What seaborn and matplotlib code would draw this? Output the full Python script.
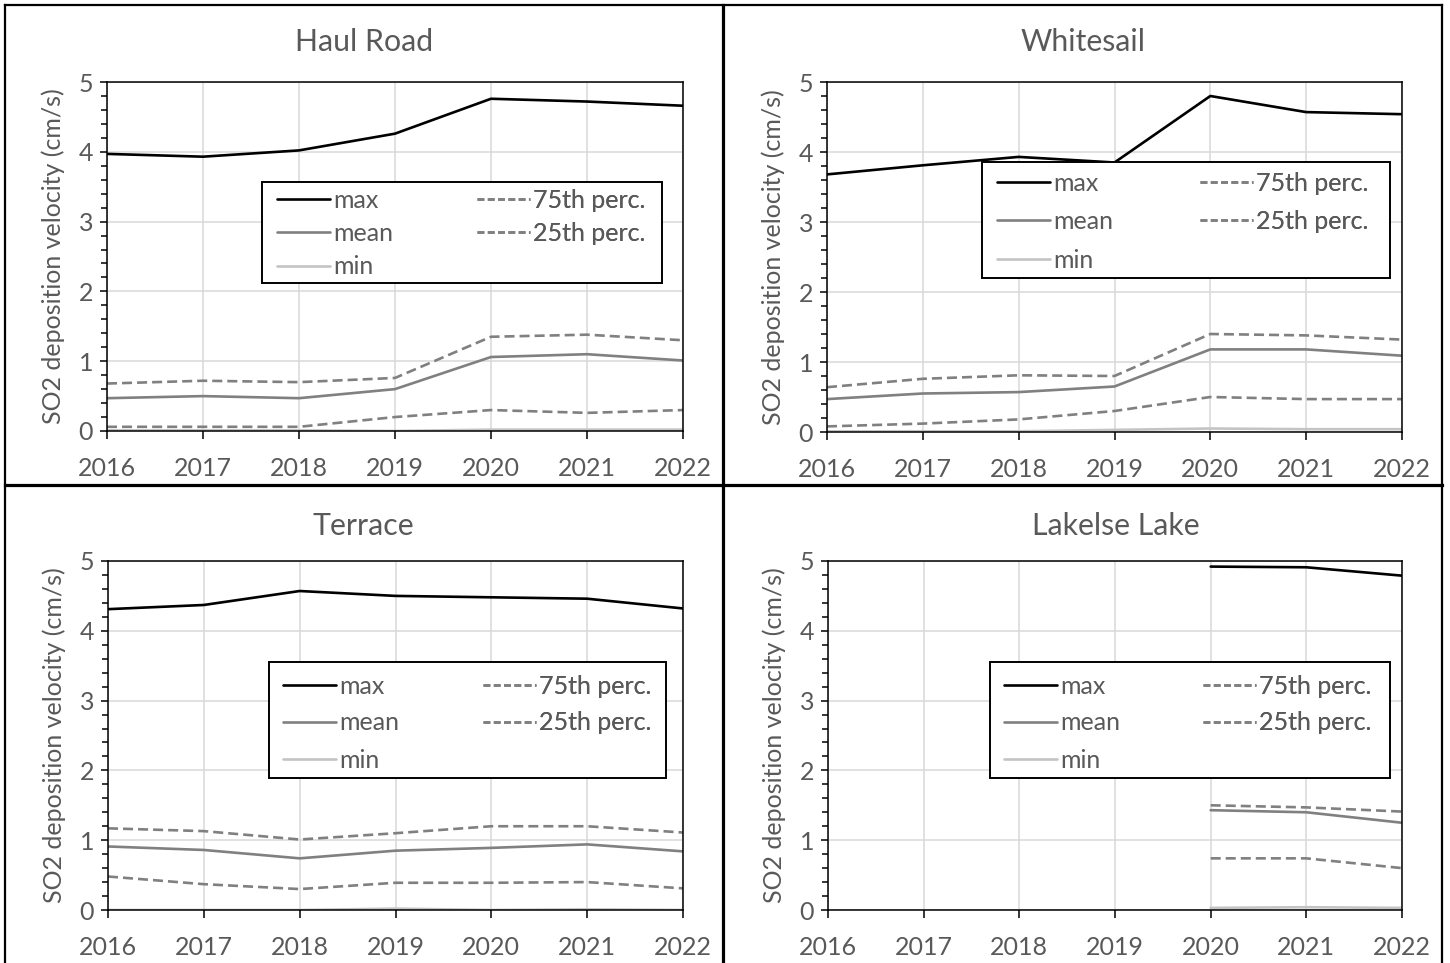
import numpy as np
import pandas as pd
import matplotlib
matplotlib.use("Agg")
import matplotlib.pyplot as plt
from matplotlib.lines import Line2D
from matplotlib.patches import Rectangle
from matplotlib.ticker import MultipleLocator
import seaborn as sns

# ---- data -------------------------------------------------------------
years = [2016, 2017, 2018, 2019, 2020, 2021, 2022]
stations = ["Haul Road", "Whitesail", "Terrace", "Lakelse Lake"]
series_labels = ["max", "mean", "min", "75th perc.", "25th perc."]

haul_max = [3.97, 3.93, 4.02, 4.26, 4.76, 4.72, 4.66]
haul_mean = [0.47, 0.50, 0.47, 0.60, 1.06, 1.10, 1.01]
haul_min = [0.01, 0.01, 0.01, 0.00, 0.02, 0.02, 0.02]
haul_p75 = [0.68, 0.72, 0.70, 0.76, 1.35, 1.38, 1.30]
haul_p25 = [0.06, 0.06, 0.06, 0.20, 0.30, 0.26, 0.30]

white_max = [3.68, 3.81, 3.93, 3.85, 4.80, 4.57, 4.54]
white_mean = [0.47, 0.55, 0.57, 0.65, 1.18, 1.18, 1.09]
white_min = [0.01, 0.01, 0.01, 0.03, 0.05, 0.04, 0.04]
white_p75 = [0.64, 0.76, 0.81, 0.80, 1.40, 1.38, 1.32]
white_p25 = [0.08, 0.12, 0.18, 0.30, 0.50, 0.47, 0.47]

terrace_max = [4.31, 4.37, 4.57, 4.50, 4.48, 4.46, 4.32]
terrace_mean = [0.91, 0.86, 0.74, 0.85, 0.89, 0.94, 0.84]
terrace_min = [0.00, 0.00, 0.00, 0.02, 0.00, 0.01, 0.00]
terrace_p75 = [1.17, 1.13, 1.01, 1.10, 1.20, 1.20, 1.11]
terrace_p25 = [0.48, 0.37, 0.30, 0.39, 0.39, 0.40, 0.31]

nan = np.nan
lakelse_max = [nan, nan, nan, nan, 4.92, 4.91, 4.79]
lakelse_mean = [nan, nan, nan, nan, 1.43, 1.40, 1.25]
lakelse_min = [nan, nan, nan, nan, 0.03, 0.04, 0.03]
lakelse_p75 = [nan, nan, nan, nan, 1.50, 1.47, 1.41]
lakelse_p25 = [nan, nan, nan, nan, 0.74, 0.74, 0.60]

station_series = {
    "Haul Road": [haul_max, haul_mean, haul_min, haul_p75, haul_p25],
    "Whitesail": [white_max, white_mean, white_min, white_p75, white_p25],
    "Terrace": [terrace_max, terrace_mean, terrace_min, terrace_p75, terrace_p25],
    "Lakelse Lake": [lakelse_max, lakelse_mean, lakelse_min, lakelse_p75, lakelse_p25],
}

rows = []
for st in stations:
    for lab, vals in zip(series_labels, station_series[st]):
        for yr, v in zip(years, vals):
            rows.append({"station": st, "series": lab, "year": yr, "value": v})
df = pd.DataFrame(rows)

# ---- styling ----------------------------------------------------------
sns.set_theme(style="white")
plt.rcParams["font.family"] = ["Lato", "DejaVu Sans"]
TEXT = "#595959"
FS = 18
FS_PX = FS * 100 / 72

line_styles = {
    "max": dict(color="#000000", lw=1.9, ls="-", leg_ls="-"),
    "mean": dict(color="#808080", lw=1.9, ls="-", leg_ls="-"),
    "min": dict(color="#c4c4c4", lw=1.9, ls="-", leg_ls="-"),
    "75th perc.": dict(color="#808080", lw=1.9, ls=(0, (3.8, 1.9)), leg_ls=(0, (2.6, 1.3))),
    "25th perc.": dict(color="#808080", lw=1.9, ls=(0, (3.8, 1.9)), leg_ls=(0, (2.6, 1.3))),
}

W, H = 1450, 963
fig = plt.figure(figsize=(W / 100, H / 100), dpi=100)

# axes rectangles in pixels: left, top, right, bottom
axes_px = {
    "Haul Road": (107, 82, 683, 431),
    "Whitesail": (827, 82, 1402, 432),
    "Terrace": (108, 561, 683, 910),
    "Lakelse Lake": (828, 561, 1402, 910),
}
# legend frame in pixels: left, top, right, bottom
legend_frame_px = {
    "Haul Road": (262, 182, 662, 283),
    "Whitesail": (982, 162, 1390, 278),
    "Terrace": (269, 662, 666, 778),
    "Lakelse Lake": (990, 662, 1390, 778),
}
# legend content in pixels: column 1 x, column 2 x, first row centre y, row pitch
legend_rows_px = {
    "Haul Road": (277, 477, 200, 33.5),
    "Whitesail": (997, 1200, 183, 38.5),
    "Terrace": (283, 483, 686, 37),
    "Lakelse Lake": (1004, 1203, 686, 37),
}
title_pos = {"Haul Road": (364, 42), "Whitesail": (1083, 42),
             "Terrace": (363, 526), "Lakelse Lake": (1116, 526)}

TEXT_H = 23.0  # approximate height of a legend text row in pixels

for st in stations:
    l, t, r, b = axes_px[st]
    ax = fig.add_axes([l / W, 1 - b / H, (r - l) / W, (b - t) / H])
    sub = df[df["station"] == st]
    handles = []
    for lab in series_labels:
        d = sub[sub["series"] == lab].dropna()
        stl = line_styles[lab]
        sns.lineplot(data=d, x="year", y="value", ax=ax, estimator=None,
                     color=stl["color"], linewidth=stl["lw"], linestyle=stl["ls"])
        handles.append(Line2D([], [], color=stl["color"], lw=stl["lw"], ls=stl["leg_ls"]))

    ax.set_xlim(2016, 2022)
    ax.set_ylim(0, 5)
    ax.set_xticks(years)
    ax.set_xticklabels([str(y) for y in years])
    ax.set_yticks(range(0, 6))
    ax.yaxis.set_minor_locator(MultipleLocator(0.2))
    ax.grid(True, which="major", color="#d9d9d9", lw=1.1)
    ax.set_axisbelow(True)
    for sp in ax.spines.values():
        sp.set_visible(True)
        sp.set_color("black")
        sp.set_linewidth(1.1)
    ax.tick_params(axis="both", which="major", labelsize=FS, labelcolor=TEXT,
                   direction="out", color="black", width=1.1)
    ax.tick_params(axis="y", which="major", length=5, pad=5, left=True)
    ax.tick_params(axis="y", which="minor", length=4, width=1.1, left=True, color="black")
    ax.tick_params(axis="x", which="major", length=6, pad=13, bottom=True)
    ax.set_xlabel("")
    ax.set_ylabel("SO2 deposition velocity (cm/s)", fontsize=FS, color=TEXT, labelpad=10)

    # legend frame
    fl, ft, fr, fb = legend_frame_px[st]
    ax.add_patch(Rectangle(((fl - l) / (r - l), (b - fb) / (b - t)),
                           (fr - fl) / (r - l), (fb - ft) / (b - t),
                           transform=ax.transAxes, facecolor="white", edgecolor="black",
                           lw=1.4, zorder=4.5))

    # legend entries, one legend per column
    c1, c2, row1, pitch = legend_rows_px[st]
    lspace = (pitch - TEXT_H) / FS_PX
    y_anchor = (b - (row1 - TEXT_H / 2)) / (b - t)
    cols = [(c1, handles[:3], series_labels[:3]), (c2, handles[3:], series_labels[3:])]
    for cx, hs, labs in cols:
        leg = ax.legend(hs, labs, loc="upper left",
                        bbox_to_anchor=((cx - l) / (r - l), y_anchor),
                        fontsize=FS, frameon=False, handlelength=2.1,
                        handletextpad=0.15, labelspacing=lspace,
                        borderpad=0, borderaxespad=0)
        for txt in leg.get_texts():
            txt.set_color(TEXT)
        ax.add_artist(leg)

    tx, ty = title_pos[st]
    fig.text(tx / W, 1 - ty / H, st, ha="center", va="center", fontsize=21.8, color=TEXT)

# panel frames
def fig_line(xs, ys, lw):
    fig.add_artist(Line2D([x / W for x in xs], [1 - y / H for y in ys],
                          transform=fig.transFigure, color="black", lw=lw,
                          solid_capstyle="projecting"))

fig_line([5, 1442], [5, 5], 1.6)
fig_line([5, 5], [5, 963], 1.6)
fig_line([1442, 1442], [5, 963], 1.6)
fig_line([723, 723], [5, 963], 2.3)
fig_line([5, 1442], [485, 485], 2.3)

fig.savefig("out.png", dpi=100, facecolor="white")
